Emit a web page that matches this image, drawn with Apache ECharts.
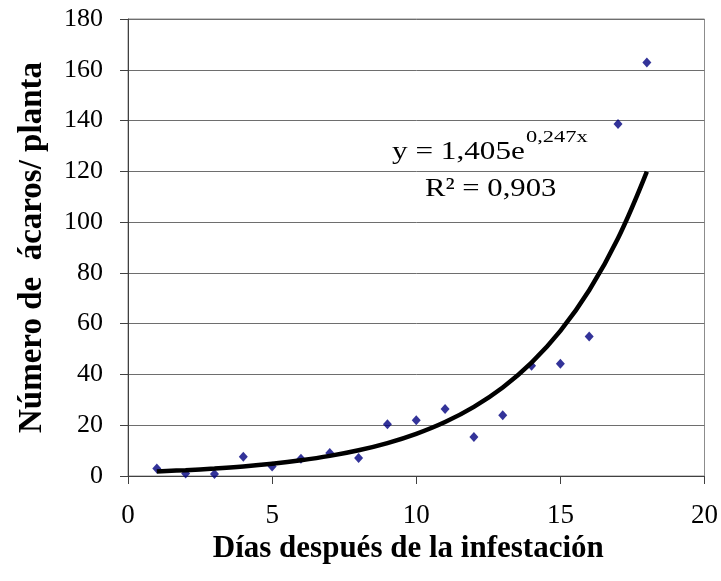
<!DOCTYPE html>
<html>
<head>
<meta charset="utf-8">
<script src="https://cdn.jsdelivr.net/npm/echarts@6/dist/echarts.min.js"></script>
<style>html,body{margin:0;padding:0;background:#fff}#c{width:721px;height:581px}</style>
</head>
<body>
<div id="c"></div>
<script>
const days = [1,2,3,4,5,6,7,8,9,10,11,12,13,14,15,16,17,18];
const mites = [3,1,0.8,7.6,3.7,6.8,9.1,7.1,20.4,22,26.4,15.4,23.9,43.4,44.2,54.9,138.6,162.9];
const trendDays = [1,2,3,4,5,6,7,8,9,10,11,12,13,14,15,16,17,18];
const trendValues = [1.80,2.30,2.95,3.77,4.83,6.19,7.92,10.14,12.98,16.62,21.27,27.23,34.86,44.63,57.13,73.14,93.64,119.9];
const xTicks = [0,5,10,15,20];
const yTicks = [0,20,40,60,80,100,120,140,160,180];
const eqMain = 'y = 1,405e';
const eqExp = '0,247x';
const r2Text = 'R² = 0,903';

const chart = echarts.init(document.getElementById('c'));
const serif = '"Liberation Serif","Times New Roman",serif';
chart.setOption({
  animation: false,
  backgroundColor: '#fff',
  grid: {left: 128, right: 15, top: 19, bottom: 105, show: true, borderColor: '#8c8c8c', borderWidth: 1},
  xAxis: {
    type: 'value', min: xTicks[0], max: xTicks[xTicks.length-1], interval: 5,
    axisLine: {show: true, onZero: false, lineStyle: {color: '#404040', width: 1}},
    axisTick: {show: true, length: 8, lineStyle: {color: '#404040'}},
    splitLine: {show: false},
    axisLabel: {color: '#000', fontFamily: serif, fontSize: 27, margin: 26},
    name: 'Días después de la infestación', nameLocation: 'middle', nameGap: 57,
    nameTextStyle: {color: '#000', fontFamily: serif, fontSize: 31, fontWeight: 'bold', padding: [0, 16, 0, 0]}
  },
  yAxis: {
    type: 'value', min: yTicks[0], max: yTicks[yTicks.length-1], interval: 20,
    axisLine: {show: true, lineStyle: {color: '#404040', width: 1}},
    axisTick: {show: true, length: 8, lineStyle: {color: '#404040'}},
    splitLine: {show: true, lineStyle: {color: '#6e6e6e', width: 1}},
    axisLabel: {color: '#000', fontFamily: serif, fontSize: 26, margin: 25},
    name: 'Número de  ácaros/ planta', nameLocation: 'middle', nameGap: 79,
    nameTextStyle: {color: '#000', fontFamily: serif, fontSize: 33, fontWeight: 'bold'}
  },
  series: [
    {
      type: 'scatter', data: days.map((d,i)=>[d, mites[i]]),
      symbol: 'diamond', symbolSize: [9,10],
      itemStyle: {color: '#000080'}, z: 3
    },
    {
      type: 'line', data: trendDays.map((d,i)=>[d, trendValues[i]]),
      showSymbol: false, smooth: 0.4,
      lineStyle: {color: '#000', width: 4.5}, z: 4
    }
  ],
  graphic: [
    {type: 'text', x: 392, y: 139, scaleX: 1.2, z: 10, style: {text: eqMain, font: '26px ' + serif, fill: '#000', textVerticalAlign: 'top'}},
    {type: 'text', x: 526, y: 130, scaleX: 1.4, z: 10, style: {text: eqExp, font: '16px ' + serif, fill: '#000', textVerticalAlign: 'top'}},
    {type: 'text', x: 425, y: 176, scaleX: 1.18, z: 10, style: {text: r2Text, font: '26px ' + serif, fill: '#000', textVerticalAlign: 'top'}}
  ]
});
</script>
</body>
</html>
